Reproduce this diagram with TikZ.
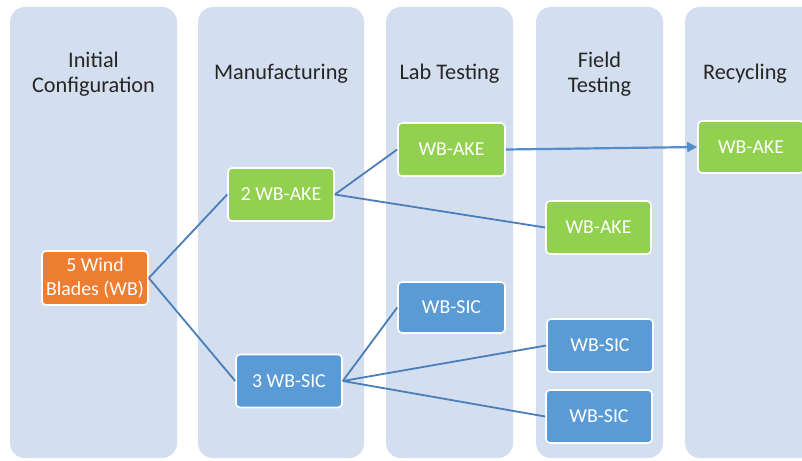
\documentclass[tikz,border=0pt]{standalone}
\usepackage{fontspec}
\setmainfont{Carlito}
\usetikzlibrary{arrows.meta}
\definecolor{lanefill}{RGB}{211,222,239}
\definecolor{orangebox}{RGB}{237,125,49}
\definecolor{greenbox}{RGB}{146,208,80}
\definecolor{bluebox}{RGB}{91,155,213}
\definecolor{linkcol}{RGB}{74,126,187}
\definecolor{arrowcol}{RGB}{84,141,204}
\definecolor{headtext}{RGB}{38,38,38}
\tikzset{
  lane/.style={fill=lanefill, draw=none, rounded corners=15pt},
  header/.style={text=headtext, align=center, font=\fontsize{22.3}{25.5}\selectfont, inner sep=0pt},
  box/.style={draw=white, line width=1.6pt, rounded corners=4pt, text=white, align=center,
    minimum width=106pt, minimum height=53pt, inner sep=0pt, font=\fontsize{19.8}{24}\selectfont},
  obox/.style={box, fill=orangebox},
  gbox/.style={box, fill=greenbox},
  bbox/.style={box, fill=bluebox},
  link/.style={draw=linkcol, line width=1.8pt},
}
\begin{document}
\begin{tikzpicture}[x=1pt,y=-1pt]
\useasboundingbox (0,0) rectangle (802,460);
\clip (0,0) rectangle (802,460);
\fill[white] (0,0) rectangle (802,460);
% lanes
\path[lane] (10,7) rectangle (177,458);
\path[lane] (198,7) rectangle (364,458);
\path[lane] (386,7) rectangle (513,458);
\path[lane] (536,7) rectangle (663,458);
\path[lane] (685,7) rectangle (840,458);
% headers
\node[header] (h1) at (93.5,74) {Initial\\Configuration};
\node[header] (h2) at (281,74) {Manufacturing};
\node[header] (h3) at (449.5,74) {Lab Testing};
\node[header] (h4) at (599.5,74) {Field\\Testing};
\node[header] (h5) at (745,74) {Recycling};
% boxes
\node[obox, minimum height=54pt] (wb) at (95,278) {5 Wind\\Blades (WB)};
\node[gbox] (ake) at (281,194.5) {2 WB-AKE};
\node[bbox] (sic) at (289,381) {3 WB-SIC};
\node[gbox, minimum width=107pt] (labake) at (451.5,149.5) {WB-AKE};
\node[bbox, minimum width=107pt, minimum height=51pt] (labsic) at (451.5,307.5) {WB-SIC};
\node[gbox, minimum width=105pt] (fieldake) at (598.5,227.5) {WB-AKE};
\node[bbox] (fieldsic1) at (600,345.5) {WB-SIC};
\node[bbox] (fieldsic2) at (599,416.5) {WB-SIC};
\node[gbox, minimum height=52pt] (recake) at (751,147) {WB-AKE};
% connectors
\draw[link] (wb.east) -- (ake.west);
\draw[link] (wb.east) -- (sic.west);
\draw[link] (ake.east) -- (labake.west);
\draw[link] (ake.east) -- (fieldake.west);
\draw[link] (sic.east) -- (labsic.west);
\draw[link] (sic.east) -- (fieldsic1.west);
\draw[link] (sic.east) -- (fieldsic2.west);
\draw[link, draw=arrowcol, line width=2.2pt, -{Triangle[length=10pt,width=10pt]}] (labake.east) -- (recake.west);
\end{tikzpicture}
\end{document}
